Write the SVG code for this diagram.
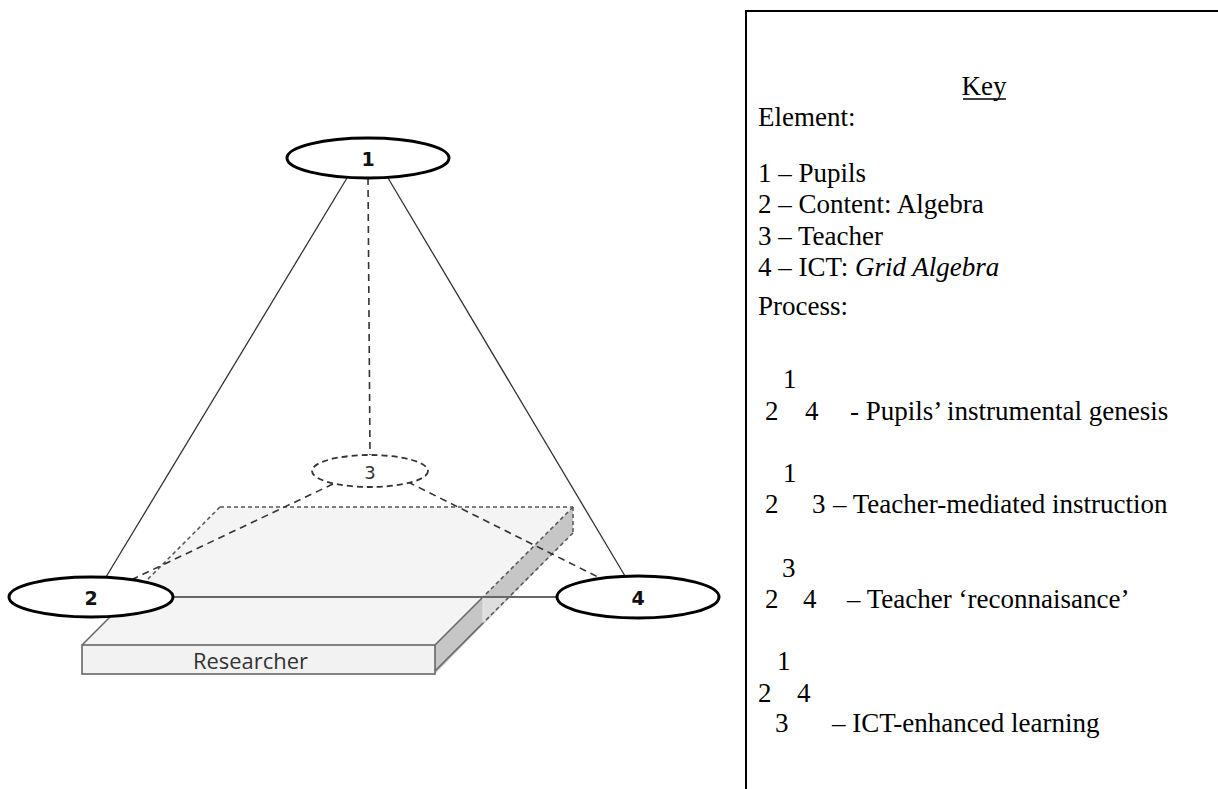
<svg xmlns="http://www.w3.org/2000/svg" width="1218" height="789" viewBox="0 0 1218 789">
<style>
.key{font-family:"Liberation Serif","Times New Roman",serif;font-size:27px;fill:#000}
.num{font-family:"DejaVu Sans",Verdana,sans-serif;font-size:19px;font-weight:bold;fill:#111;text-anchor:middle}
.node{fill:#fff;stroke:#000;stroke-width:3}
.solid{stroke:#333;stroke-width:1.3;fill:none}
.dash{stroke:#333;stroke-width:1.6;stroke-dasharray:7 5;fill:none}
.edge{stroke:#666;stroke-width:1.6;fill:none}
.edged{stroke:#555;stroke-width:1.5;stroke-dasharray:4 3;fill:none}
</style>
<rect x="0" y="0" width="1218" height="789" fill="#fff"/>
<g id="researcher">
  <polygon points="82,645 435,645 573,507 220,507" fill="#f4f4f4"/>
  <polygon points="435,645 573,507 573,533 435,674" fill="#c6c6c6"/>
  <polygon points="483,597 509,597 483,623" fill="#dedede"/>
  <rect x="82" y="645" width="353" height="29" fill="#f2f2f2" stroke="#666" stroke-width="1.6"/>
  <line x1="220" y1="507" x2="573" y2="507" class="edged"/>
  <line x1="220" y1="507" x2="144" y2="583" class="edged"/>
  <line x1="573" y1="507" x2="573" y2="533" class="edged"/>
  <line x1="573" y1="507" x2="483" y2="597" class="edged"/>
  <line x1="573" y1="533" x2="483" y2="623" class="edged"/>
  <line x1="483" y1="597" x2="435" y2="645" class="edge"/>
  <line x1="483" y1="623" x2="435" y2="671" class="edge"/>
  <line x1="483" y1="597" x2="483" y2="623" stroke="#e8e8e8" stroke-width="1"/>
  <line x1="82" y1="645" x2="110" y2="617" class="edge"/>
  <text x="250.5" y="669" font-family="Open Sans,Liberation Sans,sans-serif" font-size="21" fill="#333" text-anchor="middle" textLength="115" lengthAdjust="spacingAndGlyphs">Researcher</text>
</g>
<g id="connectors">
  <line x1="347" y1="178" x2="106" y2="577" class="solid"/>
  <line x1="388" y1="178" x2="625" y2="576" class="solid"/>
  <line x1="173" y1="597" x2="557" y2="597" stroke="#666" stroke-width="2"/>
  <line x1="368" y1="178" x2="370" y2="455" class="dash"/>
  <line x1="333" y1="484" x2="133" y2="579" class="dash"/>
  <line x1="408" y1="482" x2="598" y2="577" class="dash"/>
</g>
<g id="node1">
  <ellipse cx="368" cy="158" rx="81" ry="20" class="node"/>
  <text x="368" y="166" class="num">1</text>
</g>
<g id="node2">
  <ellipse cx="91" cy="597" rx="82" ry="20" class="node"/>
  <text x="91" y="605" class="num">2</text>
</g>
<g id="node3">
  <ellipse cx="370" cy="471" rx="58" ry="16" fill="#fff" stroke="#333" stroke-width="1.8" stroke-dasharray="6 4"/>
  <text x="370" y="479" font-family="DejaVu Sans,Verdana,sans-serif" font-size="18" fill="#333" text-anchor="middle">3</text>
</g>
<g id="node4">
  <ellipse cx="638" cy="597" rx="81" ry="21" class="node"/>
  <text x="638" y="605" class="num">4</text>
</g>
<g id="key">
  <rect x="746" y="11" width="490" height="800" fill="none" stroke="#000" stroke-width="2"/>
  <text x="984" y="95" class="key" text-anchor="middle">Key</text>
  <line x1="963" y1="99" x2="1006" y2="99" stroke="#000" stroke-width="1.3"/>
  <text x="758" y="126" class="key">Element:</text>
  <text x="758" y="182" class="key">1 – Pupils</text>
  <text x="758" y="213" class="key">2 – Content: Algebra</text>
  <text x="758" y="245" class="key">3 – Teacher</text>
  <text x="758" y="276" class="key">4 – ICT: <tspan font-style="italic">Grid Algebra</tspan></text>
  <text x="758" y="315" class="key">Process:</text>
  <text x="783" y="388" class="key">1</text>
  <text x="765" y="420" class="key">2</text>
  <text x="805" y="420" class="key">4</text>
  <text x="850" y="420" class="key">- Pupils’ instrumental genesis</text>
  <text x="783" y="482" class="key">1</text>
  <text x="765" y="513" class="key">2</text>
  <text x="812" y="513" class="key">3</text>
  <text x="833" y="513" class="key">– Teacher-mediated instruction</text>
  <text x="782" y="577" class="key">3</text>
  <text x="765" y="608" class="key">2</text>
  <text x="803" y="608" class="key">4</text>
  <text x="847" y="608" class="key">– Teacher ‘reconnaisance’</text>
  <text x="777" y="670" class="key">1</text>
  <text x="758" y="702" class="key">2</text>
  <text x="797" y="702" class="key">4</text>
  <text x="775" y="732" class="key">3</text>
  <text x="832" y="732" class="key">– ICT-enhanced learning</text>
</g>
</svg>
